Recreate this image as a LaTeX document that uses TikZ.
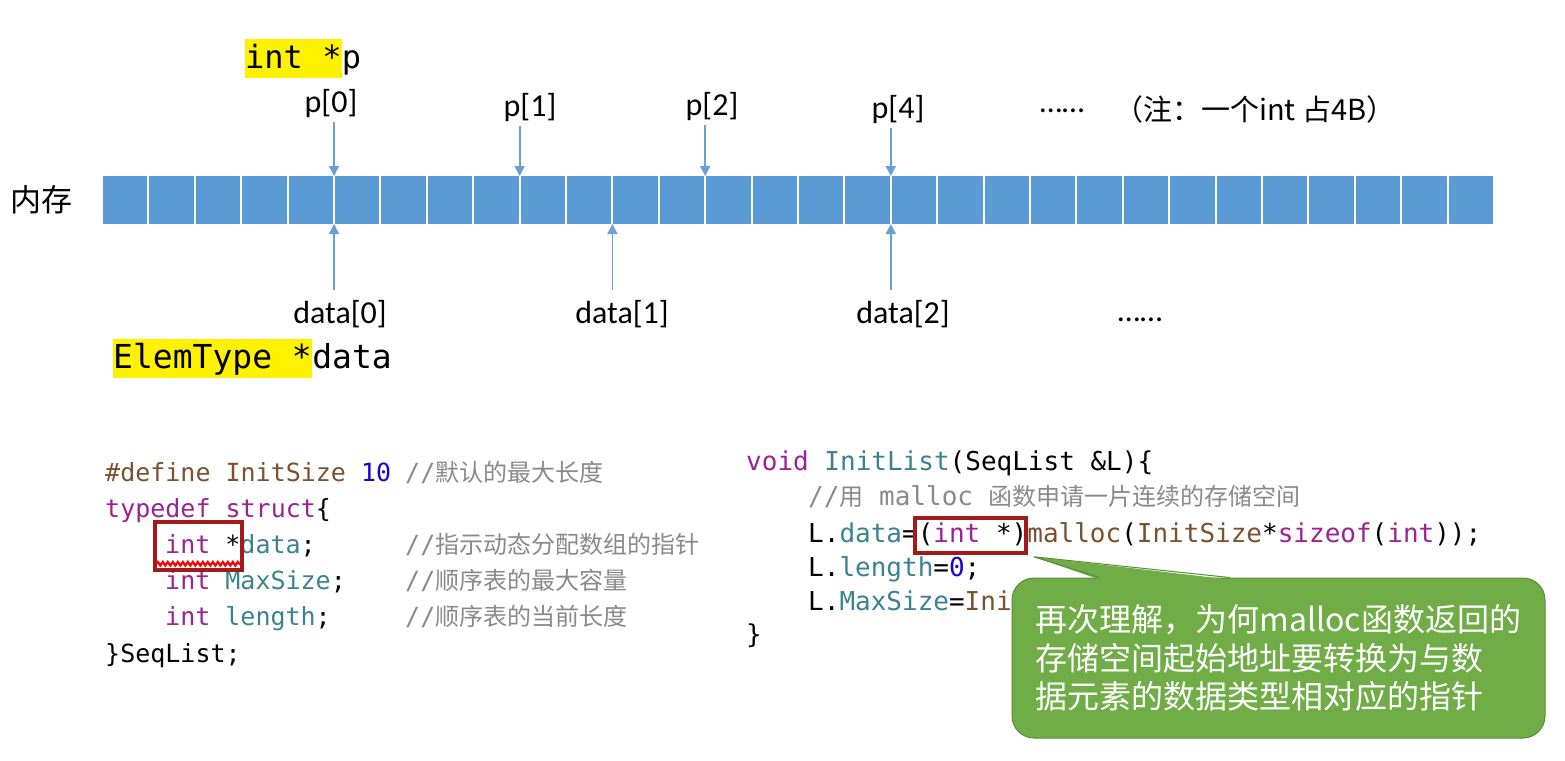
\documentclass[tikz,border=0pt]{standalone}
\usepackage{fontspec}
\setmainfont{Carlito}
\setmonofont{DejaVu Sans Mono}
\newfontfamily\cjk{Noto Sans CJK SC}
\usetikzlibrary{arrows.meta,positioning,decorations.pathmorphing}

\definecolor{cellblue}{HTML}{5B9BD5}
\definecolor{arrowblue}{HTML}{6B9FD6}
\definecolor{kwpurple}{HTML}{9B2393}
\definecolor{idteal}{HTML}{3B8391}
\definecolor{macbrown}{HTML}{7A5230}
\definecolor{numblue}{HTML}{1C00CF}
\definecolor{cmtgray}{HTML}{8A8A8A}
\definecolor{boxred}{HTML}{A31A1A}
\definecolor{notegreen}{HTML}{70AD47}
\definecolor{noteedge}{HTML}{5B8C3A}

\newcommand\ckw[1]{\textcolor{kwpurple}{#1}}
\newcommand\cid[1]{\textcolor{idteal}{#1}}
\newcommand\cmac[1]{\textcolor{macbrown}{#1}}
\newcommand\cnum[1]{\textcolor{numblue}{#1}}
\newcommand\zh[1]{{\cjk\fontsize{24}{30}\selectfont #1}}

\begin{document}
\begin{tikzpicture}[x=1pt, y=-1pt, >={Triangle[width=10pt,length=10pt]},
	cell/.style={fill=cellblue},
	ptr/.style={->, draw=arrowblue, fill=arrowblue, line width=1.8pt},
	lbl/.style={font=\fontsize{32}{36}\selectfont, anchor=base, inner sep=2pt},
	hl/.style={fill=yellow, inner xsep=0pt, inner ysep=4pt, text height=25pt, text depth=6pt, anchor=base west},
	code/.style={font=\ttfamily\fontsize{25}{30}\selectfont, anchor=base west, inner sep=0pt},
	coder/.style={code, font=\ttfamily\fontsize{26}{30}\selectfont},
	cmt/.style={code, text=cmtgray},
	redbox/.style={draw=boxred, line width=3.5pt, inner sep=0pt},
	note/.style={fill=notegreen, draw=noteedge, line width=1pt, rounded corners=22pt,
		minimum width=533pt, minimum height=160pt, text=white, align=left,
		font=\cjk\fontsize{32}{38.5}\selectfont}]
	\useasboundingbox[fill=white] (0,0) rectangle (1565,760);
	
	% memory cells
	\foreach \i in {0,...,29}
		\fill[cell] (102+46.4*\i+1,176) rectangle ++(44.4,48);
	\foreach \i in {0,...,30} {
		\coordinate (ct\i) at (102+46.4*\i,176);
		\coordinate (cb\i) at (102+46.4*\i,224);
	}
	\node[font=\cjk\fontsize{31}{36}\selectfont] (mem) at (41,200) {内存};
	
	% pointer p
	\node[hl, font=\ttfamily\fontsize{32}{36}\selectfont] (ptrhl) at (245,68) {int *};
	\node[anchor=base west, inner sep=0pt, font=\ttfamily\fontsize{32}{36}\selectfont] (ptrvar) at (ptrhl.base east) {p};
	\node[lbl] (pl0) at (331,112) {p[0]};
	\node[lbl] (pl1) at (530,116) {p[1]};
	\node[lbl] (pl2) at (712,115) {p[2]};
	\node[lbl] (pl4) at (898,118) {p[4]};
	\node[lbl] (pdots) at (1062,112) {……};
	\node[anchor=base west, inner sep=0pt, font=\cjk\fontsize{29}{34}\selectfont] (hint) at (1114,120) {（注：一个int 占4B）};
	\foreach \k/\lab in {5/pl0,9/pl1,13/pl2,17/pl4}
		\draw[ptr, shorten <=3pt] (\lab.south -| ct\k) -- (ct\k);
	
	% pointer data
	\node[lbl] (dl0) at (340,323) {data[0]};
	\node[lbl] (dl1) at (622,323) {data[1]};
	\node[lbl] (dl2) at (903,323) {data[2]};
	\node[lbl] (ddots) at (1140,321) {……};
	\foreach \k/\lab in {5/dl0,11/dl1,17/dl2}
		\draw[ptr, shorten <=8pt] (\lab.north -| cb\k) -- (cb\k);
	\node[hl, font=\ttfamily\fontsize{33}{36}\selectfont] (elemhl) at (113,368) {ElemType *};
	\node[anchor=base west, inner sep=0pt, font=\ttfamily\fontsize{33}{36}\selectfont] (elemvar) at (elemhl.base east) {data};
	
	% SeqList code
	\node[code] (sl1) at (105,481) {\cmac{\#define InitSize} \cnum{10}};
	\node[code] (sl2) at (105,517) {\ckw{typedef struct}\{};
	\node[code] (sl3) at (165,553) {\ckw{int} *\cid{data};};
	\node[code] (sl4) at (165,589) {\ckw{int} \cid{MaxSize};};
	\node[code] (sl5) at (165,625) {\ckw{int} \cid{length};};
	\node[code] (sl6) at (105,662) {\}SeqList;};
	\node[cmt] (sc1) at (405,481) {//\zh{默认的最大长度}};
	\node[cmt] (sc3) at (405,553) {//\zh{指示动态分配数组的指针}};
	\node[cmt] (sc4) at (405,589) {//\zh{顺序表的最大容量}};
	\node[cmt] (sc5) at (405,625) {//\zh{顺序表的当前长度}};
	\node[redbox, minimum width=87pt, minimum height=48pt] (intbox) at (198.5,546) {};
	\draw[red, line width=2.2pt, decorate, decoration={snake, amplitude=1.8pt, segment length=5pt}]
		([shift={(3,-8)}]intbox.south west) -- ([shift={(-4,-8)}]intbox.south east);
	
	% InitList code
	\node[coder] (il1) at (746,470) {\ckw{void} \cid{InitList}(SeqList \&L)\{};
	\node[coder, text=cmtgray] (il2) at (808,505) {//\zh{用} malloc \zh{函数申请一片连续的存储空间}};
	\node[coder] (il3) at (808,542) {L.\cid{data}=(\ckw{int} *)\cmac{malloc}(\cmac{InitSize}*\ckw{sizeof}(\ckw{int}));};
	\node[coder] (il4) at (808,576) {L.\cid{length}=\cnum{0};};
	\node[coder] (il5) at (808,610) {L.\cid{MaxSize}=\cmac{Ini}};
	\node[coder] (il6) at (746,643) {\}};
	\node[redbox, minimum width=111pt, minimum height=35pt] (castbox) at (970.5,535.5) {};
	
	% callout
	\node[note] (note) at (1278.5,658) {再次理解，为何malloc函数返回的\\存储空间起始地址要转换为与数\\据元素的数据类型相对应的指针};
	\coordinate (tip) at ([shift={(6,2)}]castbox.south east);
	\fill[notegreen] ([shift={(88,2)}]note.north west) -- (tip) -- ([shift={(218,2)}]note.north west) -- cycle;
	\draw[noteedge, line width=1pt] ([shift={(88,0)}]note.north west) -- (tip) -- ([shift={(218,0)}]note.north west);
\end{tikzpicture}
\end{document}
